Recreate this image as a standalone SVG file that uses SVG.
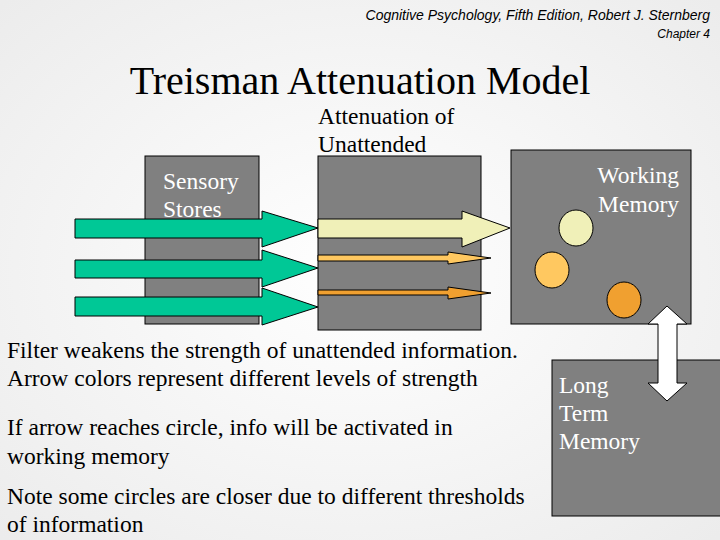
<svg xmlns="http://www.w3.org/2000/svg" width="720" height="540" viewBox="0 0 720 540">
<defs>
<radialGradient id="bg" cx="0.5" cy="0.5" r="0.7"><stop offset="0" stop-color="#ffffff"/><stop offset="1" stop-color="#ececec"/></radialGradient>
</defs>
<style>
.box{fill:#808080;stroke:#000;stroke-width:1}
.lbl{font-family:"Liberation Serif",serif;font-size:23.5px;fill:#fff}
.txt{font-family:"Liberation Serif",serif;font-size:23.5px;fill:#000}
.hdr{font-family:"Liberation Sans",sans-serif;font-style:italic;fill:#000}
.g{fill:#00c896;stroke:#000;stroke-width:1}
.ar{stroke:#000;stroke-width:1}
</style>
<rect width="720" height="540" fill="url(#bg)"/>
<text class="hdr" x="710" y="20" font-size="14" text-anchor="end">Cognitive Psychology, Fifth Edition, Robert J. Sternberg</text>
<text class="hdr" x="710" y="38" font-size="12" text-anchor="end">Chapter 4</text>
<text x="360" y="94" font-family="Liberation Serif,serif" font-size="40" text-anchor="middle">Treisman Attenuation Model</text>
<text class="txt" x="318" y="124">Attenuation of</text>
<text class="txt" x="318" y="152">Unattended</text>
<g id="sensory"><rect class="box" x="145" y="156" width="114" height="168"/><text class="lbl" x="163" y="189">Sensory</text><text class="lbl" x="163" y="217">Stores</text></g>
<g id="attenuation"><rect class="box" x="318" y="156" width="163" height="174"/></g>
<g id="working"><rect class="box" x="511" y="150" width="180" height="174"/><text class="lbl" x="679" y="183" text-anchor="end">Working</text><text class="lbl" x="679" y="212" text-anchor="end">Memory</text>
<ellipse cx="576" cy="228" rx="17" ry="18" fill="#f0f0b8" stroke="#000"/>
<ellipse cx="552" cy="270" rx="17" ry="18" fill="#ffc860" stroke="#000"/>
<ellipse cx="624" cy="300" rx="17" ry="18" fill="#f0a030" stroke="#000"/></g>
<g id="ltm"><rect class="box" x="552" y="360" width="170" height="156"/><text class="lbl" x="559" y="393">Long</text><text class="lbl" x="559" y="421">Term</text><text class="lbl" x="559" y="449">Memory</text></g>
<g id="connectors">
<polygon class="g" points="75,219 262,219 262,211 318,228 262,247 262,238 75,238"/>
<polygon class="g" points="75,260 262,260 262,250 318,268 262,287 262,278 75,278"/>
<polygon class="g" points="75,297 262,297 262,288 318,307 262,325 262,316 75,316"/>
<polygon class="ar" fill="#f0f0b8" points="318,219 462,219 462,211 510,228 462,247 462,238 318,238"/>
<polygon class="ar" fill="#ffc860" points="318,255 448,255 448,252 491,258 448,264 448,261 318,261"/>
<polygon class="ar" fill="#f0a030" points="318,290 448,290 448,287 491,293 448,299 448,295 318,295"/>
<polygon fill="#fff" stroke="#000" points="667,306 687,324 677,324 677,383 687,383 667,401 648,383 658,383 658,324 648,324"/>
</g>
<text class="txt" x="7" y="358">Filter weakens the strength of unattended information.</text>
<text class="txt" x="7" y="386">Arrow colors represent different  levels of strength</text>
<text class="txt" x="7" y="435">If arrow reaches circle, info will be activated in</text>
<text class="txt" x="7" y="464">working memory</text>
<text class="txt" x="7" y="504">Note some circles are closer due to different thresholds</text>
<text class="txt" x="7" y="532">of information</text>
</svg>
